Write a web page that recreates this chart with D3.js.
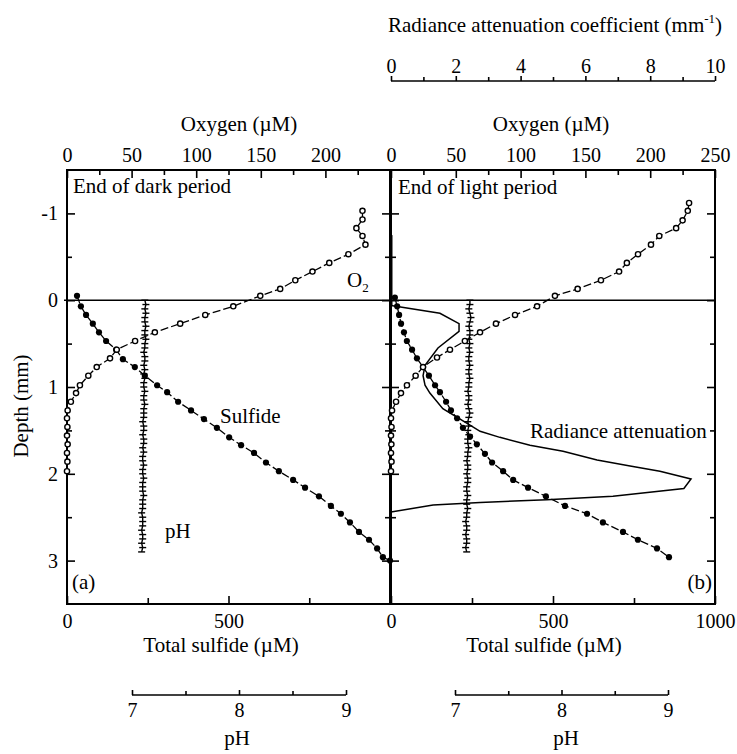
<!DOCTYPE html>
<html>
<head>
<meta charset="utf-8">
<script src="https://cdn.jsdelivr.net/npm/d3@7"></script>
<style>
  body { margin: 0; background: #fff; }
  svg { display: block; }
  text { fill: #000; }
  .axis path.domain { display: none; }
  .axis line { stroke: #000; stroke-width: 1.6; }
</style>
</head>
<body>
<svg width="737" height="754"></svg>
<script>
// depth in mm, oxygen in uM, sulfide in uM, radiance in 1/mm
const o2DarkDepth = [-1.03,-0.93,-0.83,-0.74,-0.64,-0.53,-0.43,-0.33,-0.23,-0.13,-0.05,0.07,0.17,0.27,0.37,0.47,0.57,0.67,0.77,0.87,0.98,1.07,1.17,1.27,1.36,1.46,1.56,1.66,1.76,1.86,1.97];
const o2DarkValue = [228.7,228.7,224,228.7,231,217.8,203,190,176.7,165,149.6,128.7,107,87.6,68,52.7,38.5,33.3,23,16.5,10,7,3,0.5,0,0.3,0,0.5,0,0.3,0];

const h2sDarkDepth = [-0.05,0.07,0.17,0.27,0.37,0.47,0.57,0.68,0.77,0.87,0.98,1.06,1.17,1.27,1.37,1.47,1.58,1.67,1.76,1.87,1.97,2.07,2.16,2.26,2.37,2.46,2.56,2.67,2.76,2.86,2.96,3.0];
const h2sDarkValue = [31,43,59,80,99,121,152,173,210,241,279,310,344,384,424,464,502,539,579,616,656,700,737,780,817,848,876,904,935,960,978,1000];

const o2LightDepth = [-1.12,-1.03,-0.92,-0.83,-0.74,-0.64,-0.53,-0.43,-0.33,-0.23,-0.13,-0.05,0.07,0.17,0.27,0.37,0.47,0.57,0.66,0.77,0.87,0.98,1.07,1.17,1.27,1.36,1.46,1.56,1.66,1.76,1.86,1.97];
const o2LightValue = [230,229,225,220,207,200.6,190.6,182,176,162,144,126.5,112.7,95.7,81,68.7,57,45.5,35.5,24.7,19,12.3,7.7,3.9,0.8,0,0.4,0,0.3,0,0.4,0];

const h2sLightDepth = [-0.03,0.07,0.17,0.27,0.37,0.47,0.57,0.67,0.77,0.87,0.98,1.06,1.17,1.27,1.36,1.47,1.57,1.66,1.77,1.87,1.97,2.07,2.16,2.26,2.37,2.46,2.56,2.67,2.76,2.86,2.96];
const h2sLightValue = [12,19,25,31,40,49,65,80,99,117,136,151,170,185,204,222,244,265,290,312,346,377,423,478,537,605,654,716,762,821,858];

const radDepth = [-0.75,0.06,0.15,0.27,0.36,0.55,0.75,0.87,0.98,1.07,1.25,1.42,1.51,1.58,1.67,1.74,1.84,1.91,1.97,2.06,2.17,2.26,2.30,2.33,2.36,2.44];
const radValue = [0,0,1.51,2.10,2.10,1.45,1.05,0.99,1.05,1.20,1.60,2.35,2.75,3.36,4.29,5.31,6.36,7.38,8.30,9.26,9.04,6.85,4.81,2.75,1.30,0];

const phDepth = [0.00,0.05,0.10,0.15,0.20,0.25,0.30,0.35,0.40,0.45,
  0.50,0.55,0.60,0.65,0.70,0.75,0.80,0.85,0.90,0.95,
  1.00,1.05,1.10,1.15,1.20,1.25,1.30,1.35,1.40,1.45,
  1.50,1.55,1.60,1.65,1.70,1.75,1.80,1.85,1.90,1.95,
  2.00,2.05,2.10,2.15,2.20,2.25,2.30,2.35,2.40,2.45,
  2.50,2.55,2.60,2.65,2.70,2.75,2.80,2.85,2.90];
const phDarkValue = [7.12,7.13,7.12,7.13,7.12,7.12,7.13,7.12,7.12,7.13,
  7.12,7.12,7.11,7.12,7.12,7.11,7.12,7.11,7.12,7.11,
  7.11,7.12,7.11,7.11,7.12,7.11,7.11,7.11,7.10,7.11,
  7.11,7.10,7.11,7.11,7.10,7.11,7.10,7.10,7.11,7.10,
  7.10,7.11,7.10,7.10,7.10,7.11,7.10,7.10,7.10,7.09,
  7.10,7.10,7.10,7.09,7.10,7.10,7.09,7.10,7.09];
const phLightValue = [7.14,7.14,7.13,7.14,7.15,7.14,7.13,7.14,7.14,7.13,
  7.14,7.13,7.14,7.13,7.13,7.14,7.13,7.13,7.14,7.13,
  7.13,7.12,7.13,7.13,7.12,7.13,7.14,7.13,7.12,7.13,
  7.12,7.13,7.12,7.12,7.13,7.12,7.12,7.11,7.12,7.12,
  7.11,7.12,7.12,7.11,7.11,7.12,7.11,7.11,7.12,7.11,
  7.11,7.10,7.11,7.11,7.10,7.11,7.11,7.10,7.11];

const depthTicks = [-1, 0, 1, 2, 3];
const depthMinor = [-0.5, 0.5, 1.5, 2.5];
const o2TicksLeft = [0, 50, 100, 150, 200];
const o2TicksRight = [0, 50, 100, 150, 200, 250];
const o2Minor = [25, 75, 125, 175, 225];
const h2sTicksLeft = [0, 500];
const h2sTicksRight = [0, 500, 1000];
const h2sMinor = [250, 750];
const radTicks = [0, 2, 4, 6, 8, 10];
const radMinor = [1, 3, 5, 7, 9];
const phTicks = [7, 8, 9];
const phMinor = [7.5, 8.5];

const FONT = "'Liberation Serif', Tinos, 'Times New Roman'";

const svg = d3.select("svg");

const plotTop = 170, plotBottom = 604;
const leftX = [67, 390], rightX = [391, 715];

const y = d3.scaleLinear().domain([-1.5, 3.5]).range([plotTop, plotBottom]);
const o2L = d3.scaleLinear().domain([0, 250]).range(leftX);
const o2R = d3.scaleLinear().domain([0, 250]).range(rightX);
const sL = d3.scaleLinear().domain([0, 1000]).range(leftX);
const sR = d3.scaleLinear().domain([0, 1000]).range(rightX);
const rad = d3.scaleLinear().domain([0, 10]).range(rightX);
const phL = d3.scaleLinear().domain([7, 9]).range([132, 346]);
const phR = d3.scaleLinear().domain([7, 9]).range([455, 668]);

const plain = function(d) { return String(d); };

function addAxis(axis, tx, ty) {
    const g = svg.append("g")
        .attr("class", "axis")
        .attr("transform", "translate(" + tx + "," + ty + ")")
        .call(axis)
        .attr("font-family", null);
    g.selectAll("text").style("font-size", "20px");
    return g;
}

// top oxygen axes (ticks pointing inward)
addAxis(d3.axisTop(o2L).tickValues(o2TicksLeft).tickFormat(plain).tickSize(-8).tickPadding(8), 0, plotTop);
addAxis(d3.axisTop(o2L).tickValues(o2Minor).tickSize(-5).tickFormat(""), 0, plotTop);
addAxis(d3.axisTop(o2R).tickValues(o2TicksRight).tickFormat(plain).tickSize(-8).tickPadding(8), 0, plotTop);
addAxis(d3.axisTop(o2R).tickValues(o2Minor).tickSize(-5).tickFormat(""), 0, plotTop);

// bottom sulfide axes
addAxis(d3.axisBottom(sL).tickValues(h2sTicksLeft).tickFormat(plain).tickSize(-8).tickPadding(10), 0, plotBottom);
addAxis(d3.axisBottom(sL).tickValues(h2sMinor).tickSize(-6).tickFormat(""), 0, plotBottom);
addAxis(d3.axisBottom(sR).tickValues(h2sTicksRight).tickFormat(plain).tickSize(-8).tickPadding(10), 0, plotBottom);
addAxis(d3.axisBottom(sR).tickValues(h2sMinor).tickSize(-6).tickFormat(""), 0, plotBottom);

// depth axes on each frame side
addAxis(d3.axisLeft(y).tickValues(depthTicks).tickFormat(plain).tickSize(-8).tickPadding(9), leftX[0], 0);
addAxis(d3.axisLeft(y).tickValues(depthMinor).tickSize(-5).tickFormat(""), leftX[0], 0);
addAxis(d3.axisRight(y).tickValues(depthTicks).tickSize(-8).tickFormat(""), leftX[1], 0);
addAxis(d3.axisRight(y).tickValues(depthMinor).tickSize(-5).tickFormat(""), leftX[1], 0);
addAxis(d3.axisLeft(y).tickValues(depthTicks).tickSize(-8).tickFormat(""), rightX[0], 0);
addAxis(d3.axisLeft(y).tickValues(depthMinor).tickSize(-5).tickFormat(""), rightX[0], 0);
addAxis(d3.axisRight(y).tickValues(depthTicks).tickSize(-8).tickFormat(""), rightX[1], 0);
addAxis(d3.axisRight(y).tickValues(depthMinor).tickSize(-5).tickFormat(""), rightX[1], 0);

// frames
[leftX, rightX].forEach(function(xr) {
    svg.append("rect")
        .attr("x", xr[0]).attr("y", plotTop)
        .attr("width", xr[1] - xr[0]).attr("height", plotBottom - plotTop)
        .attr("fill", "none").attr("stroke", "#000").attr("stroke-width", 2);
});

// sediment surface
svg.append("line")
    .attr("x1", leftX[0] - 3).attr("x2", rightX[1])
    .attr("y1", y(0)).attr("y2", y(0))
    .attr("stroke", "#000").attr("stroke-width", 1.6);

// radiance attenuation axis on top right
addAxis(d3.axisTop(rad).tickValues(radTicks).tickFormat(plain).tickSize(5).tickPadding(3), 0, 81);
addAxis(d3.axisTop(rad).tickValues(radMinor).tickSize(4).tickFormat(""), 0, 81);
svg.append("line").attr("x1", rightX[0]).attr("x2", rightX[1]).attr("y1", 81).attr("y2", 81)
    .attr("stroke", "#000").attr("stroke-width", 1.6);

// pH axes below
[phL, phR].forEach(function(sc) {
    addAxis(d3.axisBottom(sc).tickValues(phTicks).tickFormat(plain).tickSize(-5).tickPadding(8), 0, 695);
    addAxis(d3.axisBottom(sc).tickValues(phMinor).tickSize(-4).tickFormat(""), 0, 695);
    svg.append("line").attr("x1", sc.range()[0]).attr("x2", sc.range()[1])
        .attr("y1", 695).attr("y2", 695)
        .attr("stroke", "#000").attr("stroke-width", 1.6);
});

// profiles
function zipPts(depths, values) {
    return depths.map(function(d, i) { return { d: d, v: values[i] }; });
}

function dashedProfile(pts, xs) {
    const line = d3.line().x(function(p) { return xs(p.v); }).y(function(p) { return y(p.d); });
    svg.append("path")
        .attr("d", line(pts))
        .attr("fill", "none").attr("stroke", "#000")
        .attr("stroke-width", 1.3).attr("stroke-dasharray", "8,3");
}

function openCircles(pts, xs) {
    svg.append("g").selectAll("circle").data(pts).enter().append("circle")
        .attr("cx", function(p) { return xs(p.v); })
        .attr("cy", function(p) { return y(p.d); })
        .attr("r", 2.6)
        .attr("fill", "#fff").attr("stroke", "#000").attr("stroke-width", 1.4);
}

function filledCircles(pts, xs) {
    svg.append("g").selectAll("circle").data(pts).enter().append("circle")
        .attr("cx", function(p) { return xs(p.v); })
        .attr("cy", function(p) { return y(p.d); })
        .attr("r", 3.1)
        .attr("fill", "#000");
}

function crosses(pts, xs) {
    const line = d3.line().x(function(p) { return xs(p.v); }).y(function(p) { return y(p.d); });
    svg.append("path").attr("d", line(pts))
        .attr("fill", "none").attr("stroke", "#000").attr("stroke-width", 1.4);
    svg.append("g").selectAll("line").data(pts).enter().append("line")
        .attr("x1", function(p) { return xs(p.v) - 3.5; })
        .attr("x2", function(p) { return xs(p.v) + 3.5; })
        .attr("y1", function(p) { return y(p.d); })
        .attr("y2", function(p) { return y(p.d); })
        .attr("stroke", "#000").attr("stroke-width", 1.4);
}

const o2Dark = zipPts(o2DarkDepth, o2DarkValue);
const h2sDark = zipPts(h2sDarkDepth, h2sDarkValue);
const o2Light = zipPts(o2LightDepth, o2LightValue);
const h2sLight = zipPts(h2sLightDepth, h2sLightValue);
const phDark = zipPts(phDepth, phDarkValue);
const phLight = zipPts(phDepth, phLightValue);
const radPts = zipPts(radDepth, radValue);

crosses(phDark, phL);
crosses(phLight, phR);

dashedProfile(o2Dark, o2L);
dashedProfile(h2sDark, sL);
dashedProfile(o2Light, o2R);
dashedProfile(h2sLight, sR);

// radiance attenuation profile, solid line
const radLine = d3.line().x(function(p) { return rad(p.v); }).y(function(p) { return y(p.d); });
svg.append("path")
    .attr("d", radLine(radPts.slice(1)))
    .attr("fill", "none").attr("stroke", "#000").attr("stroke-width", 1.5);
svg.append("path")
    .attr("d", radLine(radPts.slice(0, 2)))
    .attr("fill", "none").attr("stroke", "#000").attr("stroke-width", 3);

filledCircles(h2sDark, sL);
filledCircles(h2sLight, sR);
openCircles(o2Dark, o2L);
openCircles(o2Light, o2R);

// text labels
function label(txt, x, yy, anchor) {
    return svg.append("text")
        .attr("x", x).attr("y", yy)
        .attr("text-anchor", anchor || "start")
        .style("font-size", "21px")
        .text(txt);
}

label("Oxygen (\u00b5M)", 239, 131, "middle");
label("Oxygen (\u00b5M)", 551, 131, "middle");
label("Total sulfide (\u00b5M)", 221, 652, "middle");
label("Total sulfide (\u00b5M)", 544, 652, "middle");
label("pH", 237, 745, "middle");
label("pH", 566, 745, "middle");

const radTitle = label("Radiance attenuation coefficient (mm", 388, 32);
radTitle.append("tspan").style("font-size", "13px").attr("dy", -9).text("-1");
radTitle.append("tspan").attr("dy", 9).text(")");

svg.append("text")
    .attr("transform", "translate(28," + 406 + ") rotate(-90)")
    .attr("text-anchor", "middle")
    .style("font-size", "21px")
    .text("Depth (mm)");

label("End of dark period", 73, 193);
label("End of light period", 398, 194);
label("(a)", 72, 589);
label("(b)", 712, 589, "end");
label("Sulfide", 220, 423);
label("pH", 165, 538);
label("Radiance attenuation", 530, 438);
const o2Label = label("O", 347, 287);
o2Label.append("tspan").style("font-size", "13px").attr("dy", 5).text("2");

// serif face on every text
svg.selectAll("text").style("font-family", FONT);
</script>
</body>
</html>
